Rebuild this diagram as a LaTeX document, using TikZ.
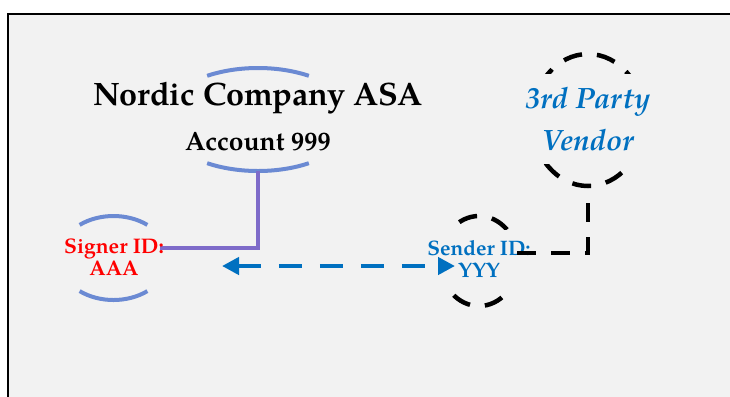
\documentclass[tikz,border=0pt]{standalone}
\usepackage{fontspec}
\setmainfont{texgyrepagella}[Extension=.otf, UprightFont=*-regular, BoldFont=*-bold, ItalicFont=*-italic, BoldItalicFont=*-bolditalic]
\usetikzlibrary{shapes.geometric,arrows.meta}
\definecolor{bgc}{HTML}{F2F2F2}
\definecolor{arcc}{HTML}{6B8AD3}
\definecolor{purp}{HTML}{7E6BC9}
\definecolor{blu}{HTML}{0070C0}
\tikzset{
  arcline/.style={draw=arcc, line width=4bp},
  linkline/.style={draw=purp, line width=3.5bp},
  blackdash/.style={draw=black, line width=4.5bp, dash pattern=on 19bp off 15bp},
  bluearrow/.style={draw=blu, line width=4.5bp, dash pattern=on 23bp off 18bp, {Triangle[length=17bp,width=17bp]}-{Triangle[length=17bp,width=17bp]}},
  shape holder/.style={ellipse, inner sep=0pt, outer sep=0pt},
  textbox/.style={fill=bgc, inner sep=0pt, align=center},
}
\begin{document}
\begin{tikzpicture}[x=1bp,y=-1bp]
\useasboundingbox (0,0) rectangle (730,396);
\clip (0,0) rectangle (730,396);
\fill[white] (0,0) rectangle (730,396);
\draw[fill=bgc, line width=2bp] (8,14) rectangle (760,420);

% Account ellipse (only top and bottom arcs visible)
\node[shape holder, minimum width=192bp, minimum height=103bp] (acct) at (258,119.5) {};
\draw[arcline] (acct.center) ++(238:96 and 51.5) arc[start angle=238, end angle=302, x radius=96, y radius=51.5];
\draw[arcline] (acct.center) ++(58:96 and 51.5) arc[start angle=58, end angle=122, x radius=96, y radius=51.5];

% Signer ellipse arcs
\node[shape holder, minimum width=110bp, minimum height=84bp] (sig) at (113.5,258) {};
\draw[arcline] (sig.center) ++(232:55 and 42) arc[start angle=232, end angle=308, x radius=55, y radius=42];
\draw[arcline] (sig.center) ++(52:55 and 42) arc[start angle=52, end angle=128, x radius=55, y radius=42];

% Sender and vendor dashed ellipses
\node[shape holder, blackdash, minimum width=78bp, minimum height=90bp] (sender) at (479,261) {};
\node[shape holder, blackdash, minimum width=112bp, minimum height=132bp] (vendor) at (588,120) {};

% texts (boxes hide the sides of the ellipses)
\node[font=\fontsize{32.5}{36}\selectfont\bfseries] (company) at (258,98) {Nordic Company ASA};
\node[font=\fontsize{26.5}{30}\selectfont\bfseries] (account) at (258,142) {Account 999};
\node[textbox, font=\fontsize{29.5}{42}\selectfont\bfseries\itshape, text=blu, minimum width=130bp, minimum height=90bp] (vendort) at (588,119) {3rd Party\\Vendor};
\node[textbox, font=\fontsize{21}{22}\selectfont\bfseries, text=blu, minimum width=112bp, minimum height=58bp] (sendert) at (479,259) {Sender ID:\\YYY};

% connectors
\coordinate (sj) at (160,248);
\draw[linkline] (acct.south) |- (sj);
\draw[blackdash] (sender.12) -| (vendor.south);

\node[font=\fontsize{21.2}{22}\selectfont\bfseries, text=red, align=center] (signer) at (114,257) {Signer ID:\\AAA};

% arrow
\coordinate (aL) at (222,266);
\coordinate (aR) at (455,266);
\draw[bluearrow] (aL) -- (aR);
\end{tikzpicture}
\end{document}
